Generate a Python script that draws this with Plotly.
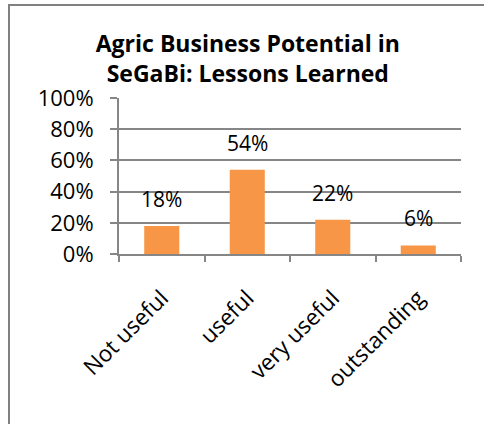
import plotly.graph_objects as go

categories = ["Not useful", "useful", "very useful", "outstanding"]
values = [0.18, 0.54, 0.22, 0.055]
value_labels = ["18%", "54%", "22%", "6%"]
y_ticks = [0, 0.2, 0.4, 0.6, 0.8, 1.0]
y_tick_labels = ["0%", "20%", "40%", "60%", "80%", "100%"]
title_text = "Agric Business Potential in<br>SeGaBi: Lessons Learned"

FONT = "Open Sans"
GRAY = "#868686"

fig = go.Figure()
fig.add_trace(go.Bar(
    x=categories, y=values,
    marker=dict(color="#F79646", line=dict(width=0)),
    width=0.41,
    showlegend=False,
    hoverinfo="skip",
))

for c, v, t in zip(categories, values, value_labels):
    fig.add_annotation(x=c, y=v, text=t, showarrow=False, yshift=27,
                       xanchor="center", yanchor="middle",
                       font=dict(family=FONT, size=21, color="#000000"))

W, H = 484, 424
L, R, T, B = 119, 23, 98, 170
pw = W - L - R
ph = H - T - B

def px2x(px):
    return (px - L) / pw

def px2y(py):
    return (H - B - py) / ph

# chart frame (top and left edges visible in the crop), drawn as thin filled bands
fig.add_shape(type="rect", xref="paper", yref="paper",
              x0=px2x(8), x1=px2x(484), y0=px2y(6), y1=px2y(4),
              line=dict(width=0), fillcolor="#808080", layer="above")
fig.add_shape(type="rect", xref="paper", yref="paper",
              x0=px2x(8), x1=px2x(10), y0=px2y(424), y1=px2y(4),
              line=dict(width=0), fillcolor="#808080", layer="above")

fig.update_layout(
    width=W, height=H,
    margin=dict(l=L, r=R, t=T, b=B, pad=0, autoexpand=False),
    paper_bgcolor="white", plot_bgcolor="white",
    title=dict(text=title_text, x=0.512, xanchor="center", y=1 - 52 / H, yanchor="middle",
               font=dict(family=FONT, size=23, color="#000000", weight="bold")),
    bargap=0.59,
    xaxis=dict(
        type="category", range=[-0.5, 3.5], automargin=False,
        showline=True, linecolor=GRAY, linewidth=2,
        ticks="outside", tickson="boundaries", ticklen=6, tickcolor=GRAY, tickwidth=2,
        tickangle=-45, tickfont=dict(family=FONT, size=22.5, color="#000000"),
        ticklabelstandoff=20,
        showgrid=False,
    ),
    yaxis=dict(
        range=[0, 1.0], tickvals=y_ticks, ticktext=y_tick_labels, automargin=False,
        showline=True, linecolor=GRAY, linewidth=2,
        ticks="outside", ticklen=7, tickcolor=GRAY, tickwidth=2,
        showgrid=True, gridcolor=GRAY, gridwidth=2,
        tickfont=dict(family=FONT, size=22, color="#000000"),
        ticklabelstandoff=12,
        zeroline=False,
    ),
)

fig.write_html("out.html", config={"displayModeBar": False},
               post_script="document.body.style.margin='0';")
